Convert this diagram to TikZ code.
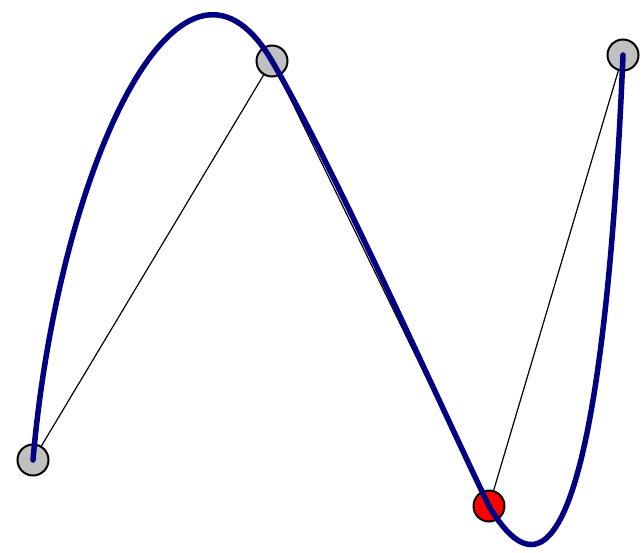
\documentclass[tikz,border=0pt]{standalone}
\definecolor{navyc}{RGB}{0,0,128}
\definecolor{ptgray}{RGB}{192,192,192}
\tikzset{
  ctrl/.style={circle,draw=black,line width=2pt,fill=ptgray,minimum size=31pt,inner sep=0pt},
  ctrlred/.style={ctrl,fill=red},
  guide/.style={draw=black,line width=1.2pt},
  spline/.style={draw=navyc,line width=5.5pt,line cap=round,line join=round}
}
\begin{document}
\begin{tikzpicture}[x=1pt,y=-1pt]
\useasboundingbox[fill=white] (0,0) rectangle (644,552);
\coordinate (a0) at (33,460);
\coordinate (a1) at (272,61);
\coordinate (a2) at (489,506);
\coordinate (a3) at (623,55);
\draw[guide] (a0) -- (a1) -- (a2) -- (a3);
\node[ctrl] (p0) at (a0) {};
\node[ctrl] (p1) at (a1) {};
\node[ctrlred] (p2) at (a2) {};
\node[ctrl] (p3) at (a3) {};
\coordinate (c1) at (58,170);
\coordinate (c2) at (180,-95);
\coordinate (c3) at (338,175);
\coordinate (c4) at (439,403);
\coordinate (c5) at (580,660);
\coordinate (c6) at (612,320);
\draw[spline] (p0.center) .. controls (c1) and (c2) .. (p1.center)
  .. controls (c3) and (c4) .. (p2.center)
  .. controls (c5) and (c6) .. (p3.center);
\end{tikzpicture}
\end{document}
